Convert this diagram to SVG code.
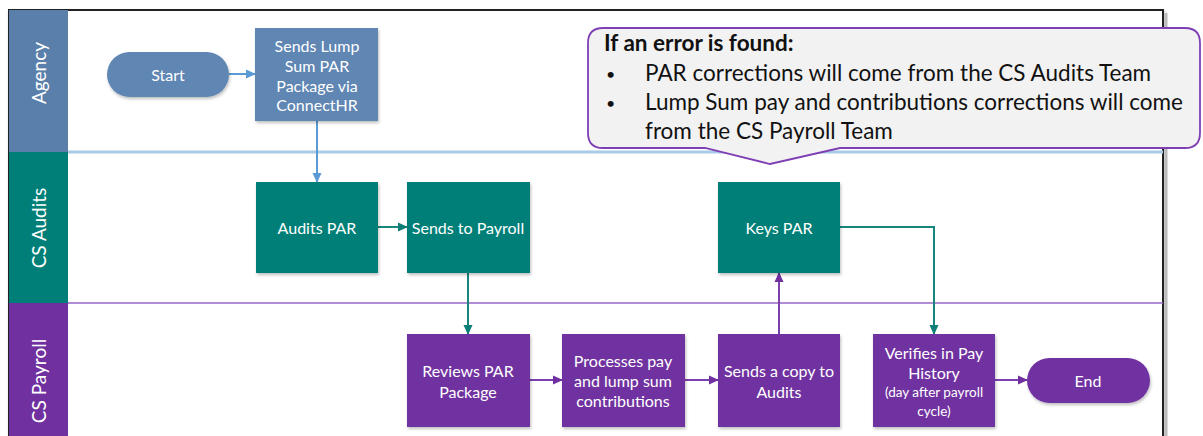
<svg xmlns="http://www.w3.org/2000/svg" width="1203" height="436" viewBox="0 0 1203 436">
<style>
.lbl{font-family:Lato,"Liberation Sans",sans-serif;fill:#fff;text-anchor:middle;dominant-baseline:central}
.node{font-size:16px}
.lane{font-size:19px}
.blue{fill:#6086b3}
.teal{fill:#007f78}
.purple{fill:#7030a0}
.cb{stroke:#5b9bd5;stroke-width:2;fill:none}
.ct{stroke:#16867e;stroke-width:2;fill:none}
.cp{stroke:#7b3fae;stroke-width:2;fill:none}
.call{font-family:Lato,"Liberation Sans",sans-serif;font-size:22.5px;fill:#111}
.bul{font-family:Lato,"Liberation Sans",sans-serif;font-size:16px;fill:#111}
</style>
<defs>
<filter id="sh" x="-10%" y="-10%" width="130%" height="130%">
<feDropShadow dx="1" dy="2" stdDeviation="1.5" flood-color="#000" flood-opacity="0.25"/>
</filter>
<marker id="ab" markerWidth="10" markerHeight="10" refX="9" refY="5" orient="auto" markerUnits="userSpaceOnUse"><path d="M0,0.5 L10,5 L0,9.5 Z" fill="#5b9bd5"/></marker>
<marker id="at" markerWidth="10" markerHeight="10" refX="9" refY="5" orient="auto" markerUnits="userSpaceOnUse"><path d="M0,0.5 L10,5 L0,9.5 Z" fill="#0e7f77"/></marker>
<marker id="ap" markerWidth="10" markerHeight="10" refX="9" refY="5" orient="auto" markerUnits="userSpaceOnUse"><path d="M0,0.5 L10,5 L0,9.5 Z" fill="#7030a0"/></marker>
</defs>
<rect width="1203" height="436" fill="#fff"/>
<g id="frame">
<rect x="9" y="10" width="1154" height="440" fill="#fff" stroke="#222" stroke-width="2" filter="url(#sh)"/>
<line x1="1166" y1="13" x2="1166" y2="436" stroke="#bbb" stroke-width="3"/>
</g>
<g id="lane-agency">
<rect x="9" y="10" width="59" height="142" style="fill:#5a7fab"/>
<text class="lbl lane" transform="translate(38,73) rotate(-90)">Agency</text>
</g>
<g id="lane-audits">
<rect x="9" y="152" width="59" height="151" class="teal"/>
<text class="lbl lane" transform="translate(38,228) rotate(-90)">CS Audits</text>
</g>
<g id="lane-payroll">
<rect x="9" y="303" width="59" height="140" class="purple"/>
<text class="lbl lane" transform="translate(38,381) rotate(-90)">CS Payroll</text>
</g>
<g id="dividers">
<line x1="68" y1="152" x2="1163" y2="152" stroke="#a8cbe8" stroke-width="3"/>
<line x1="68" y1="303" x2="1163" y2="303" stroke="#9566c4" stroke-width="1.5"/>
</g>
<g id="connectors">
<line class="cb" x1="229" y1="74" x2="255" y2="74" marker-end="url(#ab)"/>
<line class="cb" x1="317" y1="121" x2="317" y2="182" marker-end="url(#ab)"/>
<line class="ct" x1="378" y1="227" x2="407" y2="227" marker-end="url(#at)"/>
<line class="ct" x1="468" y1="273" x2="468" y2="334" marker-end="url(#at)"/>
<line class="cp" x1="530" y1="380" x2="562" y2="380" marker-end="url(#ap)"/>
<line class="cp" x1="685" y1="380" x2="718" y2="380" marker-end="url(#ap)"/>
<line class="cp" x1="779" y1="334" x2="779" y2="273" marker-end="url(#ap)"/>
<polyline class="ct" points="840,227 934,227 934,334" marker-end="url(#at)"/>
<line class="cp" x1="995" y1="380" x2="1027" y2="380" marker-end="url(#ap)"/>
</g>
<g id="start">
<rect x="107" y="52" width="122" height="45" rx="22.5" class="blue" filter="url(#sh)"/>
<text class="lbl node" x="168" y="74">Start</text>
</g>
<g id="sends-lump">
<rect x="255" y="28" width="123" height="93" class="blue" filter="url(#sh)"/>
<text class="lbl node" x="317" y="45">Sends Lump</text>
<text class="lbl node" x="317" y="65">Sum PAR</text>
<text class="lbl node" x="317" y="85">Package via</text>
<text class="lbl node" x="317" y="104">ConnectHR</text>
</g>
<g id="audits-par">
<rect x="256" y="182" width="122" height="91" class="teal" filter="url(#sh)"/>
<text class="lbl node" x="317" y="227">Audits PAR</text>
</g>
<g id="sends-to-payroll">
<rect x="407" y="182" width="123" height="91" class="teal" filter="url(#sh)"/>
<text class="lbl node" x="468" y="227">Sends to Payroll</text>
</g>
<g id="keys-par">
<rect x="718" y="182" width="122" height="91" class="teal" filter="url(#sh)"/>
<text class="lbl node" x="779" y="227">Keys PAR</text>
</g>
<g id="reviews-par">
<rect x="407" y="334" width="123" height="93" class="purple" filter="url(#sh)"/>
<text class="lbl node" x="468" y="370">Reviews PAR</text>
<text class="lbl node" x="468" y="391">Package</text>
</g>
<g id="processes-pay">
<rect x="562" y="334" width="123" height="93" class="purple" filter="url(#sh)"/>
<text class="lbl node" x="623" y="360">Processes pay</text>
<text class="lbl node" x="623" y="380">and lump sum</text>
<text class="lbl node" x="623" y="400">contributions</text>
</g>
<g id="sends-copy">
<rect x="718" y="334" width="122" height="93" class="purple" filter="url(#sh)"/>
<text class="lbl node" x="779" y="370">Sends a copy to</text>
<text class="lbl node" x="779" y="391">Audits</text>
</g>
<g id="verifies">
<rect x="873" y="334" width="122" height="93" class="purple" filter="url(#sh)"/>
<text class="lbl node" x="934" y="352">Verifies in Pay</text>
<text class="lbl node" x="934" y="372">History</text>
<text class="lbl" style="font-size:13.5px" x="934" y="392">(day after payroll</text>
<text class="lbl" style="font-size:13.5px" x="934" y="411">cycle)</text>
</g>
<g id="end">
<rect x="1027" y="358" width="123" height="45" rx="22.5" class="purple" filter="url(#sh)"/>
<text class="lbl node" x="1088" y="380">End</text>
</g>
<g id="callout">
<path d="M603,28 H1185 Q1200,28 1200,43 V133 Q1200,148 1185,148 H840 L770,164 L705,148 H603 Q588,148 588,133 V43 Q588,28 603,28 Z" fill="#f2f2f2" stroke="#7f3fb5" stroke-width="1.8"/>
<text class="call" x="604" y="51" font-weight="bold">If an error is found:</text>
<text class="bul" x="606" y="80">•</text>
<text class="call" x="645" y="81">PAR corrections will come from the CS Audits Team</text>
<text class="bul" x="606" y="109">•</text>
<text class="call" x="645" y="110">Lump Sum pay and contributions corrections will come</text>
<text class="call" x="645" y="139">from the CS Payroll Team</text>
</g>
</svg>
